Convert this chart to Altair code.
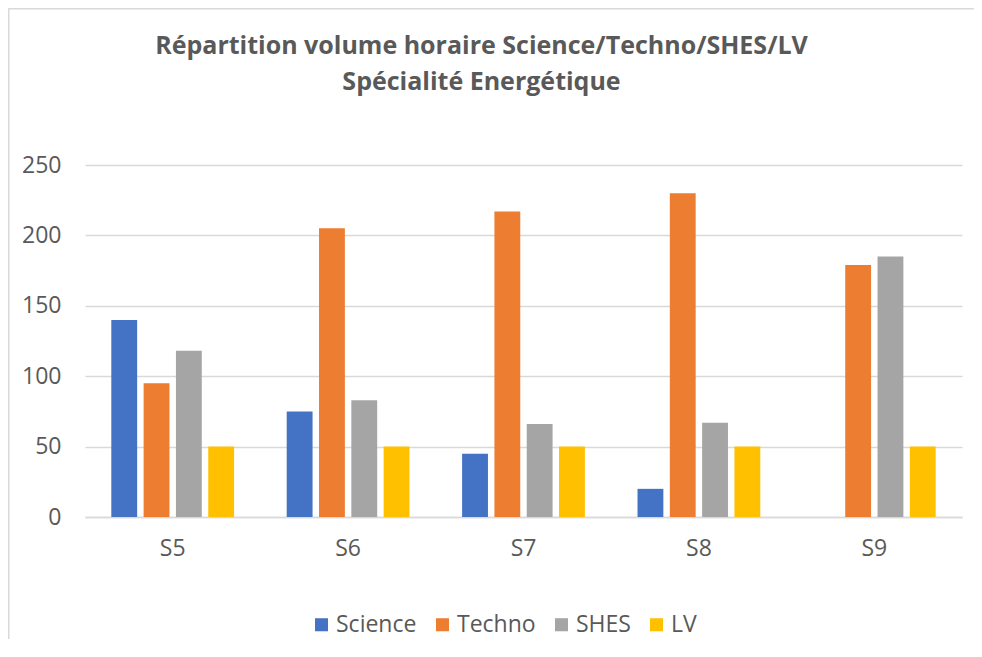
import altair as alt
import pandas as pd

categories = ["S5", "S6", "S7", "S8", "S9"]
series = ["Science", "Techno", "SHES", "LV"]
science = [140, 75, 45, 20, 0]
techno = [95, 205, 217, 230, 179]
shes = [118, 83, 66, 67, 185]
lv = [50, 50, 50, 50, 50]
colors = ["#4472C4", "#ED7D31", "#A5A5A5", "#FFC000"]

rows = []
for name, vals in zip(series, [science, techno, shes, lv]):
    for c, v in zip(categories, vals):
        rows.append({"Semestre": c, "Matière": name, "Heures": v})
df = pd.DataFrame(rows)

FONT = "Open Sans"
GRAY = "#595959"
W, H = 877, 352
FS = 23

bars = alt.Chart(df).mark_bar().encode(
    x=alt.X("Semestre:N", sort=categories, title=None,
            scale=alt.Scale(paddingInner=0.3, paddingOuter=0.15),
            axis=alt.Axis(labelAngle=0, labelFontSize=FS, labelFont=FONT,
                          labelColor=GRAY, ticks=False, domainColor="#d9d9d9",
                          domainWidth=1.5, labelPadding=20, grid=False)),
    xOffset=alt.XOffset("Matière:N", sort=series,
                        scale=alt.Scale(paddingInner=0.2, paddingOuter=0)),
    y=alt.Y("Heures:Q", title=None,
            scale=alt.Scale(domain=[0, 250]),
            axis=alt.Axis(values=[0, 50, 100, 150, 200, 250], labelFontSize=FS,
                          labelFont=FONT, labelColor=GRAY, ticks=False,
                          domain=False, gridColor="#d9d9d9", gridWidth=1.5,
                          labelPadding=24)),
    color=alt.Color("Matière:N", sort=series,
                    scale=alt.Scale(domain=series, range=colors),
                    legend=alt.Legend(title=None, orient="none", direction="horizontal",
                                      legendX=225, legendY=448,
                                      symbolType="square", symbolSize=170,
                                      symbolStrokeWidth=0,
                                      labelFontSize=FS, labelFont=FONT,
                                      labelColor=GRAY, columnPadding=14,
                                      labelOffset=3)),
)

edge = pd.DataFrame({"k": [0]})
top_line = alt.Chart(edge).mark_rule(color="#d9d9d9", strokeWidth=3).encode(
    x=alt.value(-77), x2=alt.value(W + 12), y=alt.value(-157))
left_line = alt.Chart(edge).mark_rule(color="#d9d9d9", strokeWidth=3).encode(
    x=alt.value(-77), y=alt.value(-157), y2=alt.value(H + 130))

chart = alt.layer(bars, top_line, left_line).properties(
    width=W, height=H,
    autosize=alt.AutoSizeParams(type="none"),
    padding={"left": 77, "top": 157, "right": 12, "bottom": 122},
    title=alt.TitleParams(
        text=["Répartition volume horaire Science/Techno/SHES/LV",
              "Spécialité Energétique"],
        font=FONT, fontSize=25, fontWeight="bold", color=GRAY,
        anchor="middle", frame="group", dx=-42, offset=-88, lineHeight=36),
).configure_view(stroke=None)

chart.save("out.html", embed_options={"renderer": "svg", "actions": False})
